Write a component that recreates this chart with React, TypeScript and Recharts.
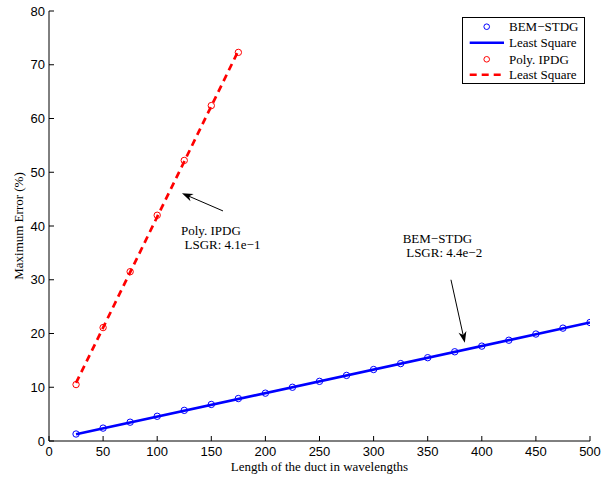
import React from 'react';
import {
  ComposedChart,
  XAxis,
  YAxis,
  Line,
  Scatter,
  ReferenceLine,
  ReferenceDot,
  Legend,
} from 'recharts';

const xTicks = [0, 50, 100, 150, 200, 250, 300, 350, 400, 450, 500];
const yTicks = [0, 10, 20, 30, 40, 50, 60, 70, 80];

const bemLength = [25, 50, 75, 100, 125, 150, 175, 200, 225, 250, 275, 300, 325, 350, 375, 400, 425, 450, 475, 500];
const bemError = [1.3, 2.4, 3.5, 4.6, 5.7, 6.8, 7.9, 8.9, 10.0, 11.1, 12.2, 13.3, 14.4, 15.5, 16.6, 17.65, 18.75, 19.9, 21.0, 22.05];
const bemFitLength = [25, 500];
const bemFitError = [1.25, 22.05];

const polyLength = [25, 50, 75, 100, 125, 150, 175];
const polyError = [10.5, 21.1, 31.5, 42.0, 52.2, 62.4, 72.3];
const polyFitLength = [25, 175];
const polyFitError = [10.8, 72.6];

const bemPts = bemLength.map((x, i) => ({ x, y: bemError[i] }));
const bemFit = bemFitLength.map((x, i) => ({ x, y: bemFitError[i] }));
const polyPts = polyLength.map((x, i) => ({ x, y: polyError[i] }));
const polyFit = polyFitLength.map((x, i) => ({ x, y: polyFitError[i] }));

const SERIF = '"Liberation Serif", "Times New Roman", serif';
const SANS = '"Liberation Sans", Arial, sans-serif';

const Arrow = (props: any) => {
  const { x1, y1, x2, y2 } = props;
  const dx = x2 - x1;
  const dy = y2 - y1;
  const len = Math.sqrt(dx * dx + dy * dy) || 1;
  const ux = dx / len;
  const uy = dy / len;
  const hl = 11;
  const hw = 4;
  const bx = x2 - ux * hl;
  const by = y2 - uy * hl;
  const nx = -uy;
  const ny = ux;
  const mx = x2 - ux * hl * 0.7;
  const my = y2 - uy * hl * 0.7;
  return (
    <g>
      <line x1={x1} y1={y1} x2={mx} y2={my} stroke="#000" strokeWidth={1} />
      <polygon
        points={`${x2},${y2} ${bx + nx * hw},${by + ny * hw} ${mx},${my} ${bx - nx * hw},${by - ny * hw}`}
        fill="#000"
      />
    </g>
  );
};

const AnnText = (props: any) => {
  const vb = props.viewBox || {};
  const x = vb.x ?? 0;
  const y = vb.y ?? 0;
  const lines: string[] = props.lines;
  return (
    <text x={x} y={y} fontFamily={SERIF} fontSize={13} fill="#000">
      <tspan x={x} y={y}>{lines[0]}</tspan>
      <tspan x={x + 3.5} y={y + 14}>{lines[1]}</tspan>
    </text>
  );
};

const XTitle = (props: any) => {
  const vb = props.viewBox || {};
  return (
    <text x={vb.x + vb.width / 2} y={471} textAnchor="middle" fontFamily={SERIF} fontSize={13} fill="#000">
      Length of the duct in wavelengths
    </text>
  );
};

const YTitle = (props: any) => {
  const vb = props.viewBox || {};
  const cy = vb.y + vb.height / 2;
  return (
    <text x={23} y={cy} transform={`rotate(-90 23 ${cy})`} textAnchor="middle" fontFamily={SERIF} fontSize={13} fill="#000">
      Maximum Error (%)
    </text>
  );
};

const LegendBox = () => {
  const rows = [9.7, 25.7, 42.3, 57.7];
  return (
    <svg width={123} height={67} style={{ display: 'block' }}>
      <rect x={0.5} y={0.5} width={122} height={66} fill="#fff" stroke="#000" strokeWidth={1} />
      <circle cx={24.7} cy={rows[0]} r={2.8} fill="none" stroke="#0000ff" strokeWidth={1} />
      <line x1={7.7} x2={42} y1={rows[1]} y2={rows[1]} stroke="#0000ff" strokeWidth={2.5} />
      <circle cx={24.7} cy={rows[2]} r={2.8} fill="none" stroke="#ff0000" strokeWidth={1} />
      <line x1={7.7} x2={42} y1={rows[3]} y2={rows[3]} stroke="#ff0000" strokeWidth={2.5} strokeDasharray="7 5" />
      {['BEM\u2212STDG', 'Least Square', 'Poly. IPDG', 'Least Square'].map((t, i) => (
        <text key={i} x={47} y={rows[i] + 4.5} fontFamily={SERIF} fontSize={13} fill="#000">
          {t}
        </text>
      ))}
    </svg>
  );
};

const tickStyle = { fontFamily: SANS, fontSize: 13, fill: '#000' };

export default function App() {
  return (
    <div style={{ position: 'absolute', left: 0, top: 0, background: '#fff' }}>
      <ComposedChart width={601} height={482} margin={{ top: 11, right: 11, bottom: 0, left: 0 }}>
        <XAxis
          xAxisId="b"
          type="number"
          dataKey="x"
          domain={[0, 500]}
          ticks={xTicks}
          orientation="bottom"
          height={41}
          tickSize={-5}
          tickMargin={11}
          tick={tickStyle}
          axisLine={{ stroke: '#000', strokeWidth: 1 }}
          tickLine={{ stroke: '#000', strokeWidth: 1 }}
          allowDataOverflow
          label={<XTitle />}
        />
        <XAxis
          xAxisId="t"
          type="number"
          dataKey="x"
          domain={[0, 500]}
          ticks={xTicks}
          orientation="top"
          height={0}
          tickSize={-5}
          tickFormatter={() => ''}
          axisLine={{ stroke: '#000', strokeWidth: 1 }}
          tickLine={{ stroke: '#000', strokeWidth: 1 }}
          allowDataOverflow
        />
        <YAxis
          yAxisId="l"
          type="number"
          dataKey="y"
          domain={[0, 80]}
          ticks={yTicks}
          orientation="left"
          width={49}
          tickSize={-5}
          tickMargin={9}
          tick={tickStyle}
          axisLine={{ stroke: '#000', strokeWidth: 1 }}
          tickLine={{ stroke: '#000', strokeWidth: 1 }}
          allowDataOverflow
          label={<YTitle />}
        />
        <YAxis
          yAxisId="r"
          type="number"
          dataKey="y"
          domain={[0, 80]}
          ticks={yTicks}
          orientation="right"
          width={0}
          tickSize={-5}
          tickFormatter={() => ''}
          axisLine={{ stroke: '#000', strokeWidth: 1 }}
          tickLine={{ stroke: '#000', strokeWidth: 1 }}
          allowDataOverflow
        />
        <Line
          xAxisId="b"
          yAxisId="l"
          data={bemFit}
          dataKey="y"
          stroke="#0000ff"
          strokeWidth={2.7}
          dot={false}
          activeDot={false}
          isAnimationActive={false}
          legendType="none"
        />
        <Scatter
          xAxisId="b"
          yAxisId="l"
          data={bemPts}
          dataKey="y"
          shape={(p: any) => <circle cx={p.cx} cy={p.cy} r={3.2} fill="none" stroke="#0000ff" strokeWidth={1} />}
          isAnimationActive={false}
          legendType="none"
        />
        <Scatter
          xAxisId="b"
          yAxisId="l"
          data={polyPts}
          dataKey="y"
          shape={(p: any) => <circle cx={p.cx} cy={p.cy} r={3.2} fill="none" stroke="#ff0000" strokeWidth={1} />}
          isAnimationActive={false}
          legendType="none"
        />
        <Line
          xAxisId="b"
          yAxisId="l"
          data={polyFit}
          dataKey="y"
          stroke="#ff0000"
          strokeWidth={2.7}
          strokeDasharray="7 5"
          dot={false}
          activeDot={false}
          isAnimationActive={false}
          legendType="none"
        />
        <ReferenceLine
          xAxisId="b"
          yAxisId="l"
          segment={[{ x: 160.8, y: 42.8 }, { x: 122.9, y: 46.1 }]}
          shape={<Arrow />}
        />
        <ReferenceLine
          xAxisId="b"
          yAxisId="l"
          segment={[{ x: 371.5, y: 30.0 }, { x: 384.3, y: 18.3 }]}
          shape={<Arrow />}
        />
        <ReferenceDot
          xAxisId="b"
          yAxisId="l"
          x={122.0}
          y={38.3}
          r={0}
          fill="none"
          stroke="none"
          label={<AnnText lines={['Poly. IPDG', 'LSGR: 4.1e\u22121']} />}
        />
        <ReferenceDot
          xAxisId="b"
          yAxisId="l"
          x={326.9}
          y={36.8}
          r={0}
          fill="none"
          stroke="none"
          label={<AnnText lines={['BEM\u2212STDG', 'LSGR: 4.4e\u22122']} />}
        />
        <Legend
          layout="vertical"
          align="center"
          verticalAlign="middle"
          wrapperStyle={{ position: 'absolute', left: 462, top: 17, width: 123, height: 67 }}
          content={() => <LegendBox />}
        />
      </ComposedChart>
    </div>
  );
}
